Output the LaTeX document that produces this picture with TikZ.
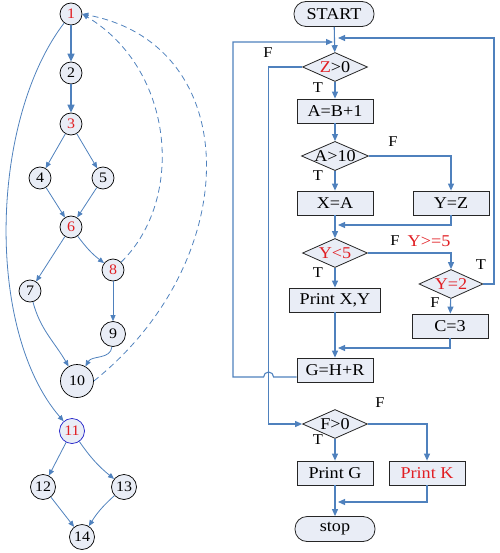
\documentclass[tikz,border=0pt]{standalone}
\usepackage{fontspec}
\setmainfont{Liberation Serif}[FakeStretch=1.1]
\usetikzlibrary{arrows.meta,shapes.geometric,calc}
\definecolor{lnblue}{RGB}{79,129,189}
\definecolor{nfill}{RGB}{233,237,246}
\definecolor{tred}{RGB}{225,30,35}
\definecolor{cblue}{RGB}{30,30,200}
\tikzset{
  vtx/.style={circle,draw=black,fill=nfill,inner sep=0pt,minimum size=22pt,line width=0.7pt,font=\fontsize{14.5}{16}\selectfont},
  rvtx/.style={vtx,text=tred},
  blk/.style={draw=black!85,fill=nfill,rectangle,minimum width=76pt,minimum height=24pt,inner sep=1pt,line width=0.8pt,font=\fontsize{16.5}{18}\selectfont},
  decblk/.style={blk,diamond,aspect=2.3,minimum width=65pt,minimum height=29pt,inner sep=0pt},
  termblk/.style={blk,minimum width=80pt,minimum height=25pt,rounded corners=12pt},
  arr/.style={-{Triangle[length=7pt,width=6pt]},lnblue,line width=1.1pt},
  garr/.style={-{Triangle[length=6pt,width=5pt]},lnblue,line width=0.8pt},
  thkarr/.style={-{Triangle[length=8pt,width=7pt]},lnblue,line width=1.6pt},
  dasharr/.style={garr,dash pattern=on 6pt off 4pt},
  lbl/.style={font=\fontsize{15}{17}\selectfont,inner sep=0pt}
}
\begin{document}
\begin{tikzpicture}[x=1pt,y=-1pt]
  \useasboundingbox (0,0) rectangle (499,553);
  % control flow graph
  \node[rvtx] (n1) at (71,14) {1};
  \node[vtx] (n2) at (71,73) {2};
  \node[rvtx] (n3) at (71,124) {3};
  \node[vtx] (n4) at (40,178) {4};
  \node[vtx] (n5) at (103,178) {5};
  \node[rvtx] (n6) at (71,227) {6};
  \node[vtx] (n7) at (30,291) {7};
  \node[rvtx] (n8) at (113,270) {8};
  \node[vtx,minimum size=25pt] (n9) at (113,334) {9};
  \node[vtx,minimum size=33pt] (n10) at (77,381) {10};
  \node[rvtx,draw=cblue,minimum size=25pt] (n11) at (72,431) {11};
  \node[vtx,minimum size=25pt] (n12) at (43,487) {12};
  \node[vtx,minimum size=25pt] (n13) at (124,487) {13};
  \node[vtx,minimum size=25pt] (n14) at (82,537) {14};

  \draw[thkarr] (n1)--(n2);
  \draw[thkarr] (n2)--(n3);
  \draw[garr] (n3)--(n4);
  \draw[garr] (n3)--(n5);
  \draw[garr] (n4)--(n6);
  \draw[garr] (n5)--(n6);
  \draw[garr] (n6)--(n7);
  \draw[garr] (n6) to[bend right=8] (n8);
  \draw[garr] (n8)--(n9);
  \draw[garr] (n7) to[out=-75,in=120] (n10);
  \draw[garr] (n9) to[out=-95,in=60] (n10);
  \draw[garr] (n1) .. controls (-10,120) and (-15,330) .. (n11);
  \draw[garr] (n11)--(n12);
  \draw[garr] (n11) to[bend right=8] (n13);
  \draw[garr] (n12)--(n14);
  \draw[garr] (n13) to[bend right=8] (n14);
  \draw[dasharr] (n8) .. controls (185,200) and (175,70) .. (n1.east);
  \draw[dasharr] (n10.east) .. controls (245,260) and (245,45) .. (n1.east);

  % flow chart
  \node[termblk] (start) at (334,14) {START};
  \node[decblk] (zgt) at (335,67) {\textcolor{tred}{Z}>0};
  \node[blk] (abb) at (335,111) {A=B+1};
  \node[decblk] (agt) at (335,156) {A>10};
  \node[blk] (xa) at (335,203) {X=A};
  \node[blk] (yz) at (451,203) {Y=Z};
  \node[decblk,text=tred] (ylt) at (335,253) {Y<5};
  \node[decblk,text=tred,minimum width=64pt] (y2) at (451,284) {Y=2};
  \node[blk,minimum width=91pt] (pxy) at (335,300) {Print X,Y};
  \node[blk] (c3) at (450,326) {C=3};
  \node[blk] (ghr) at (335,370) {G=H+R};
  \node[decblk] (fgt) at (335,424) {F>0};
  \node[blk] (pg) at (335,473) {Print G};
  \node[blk,text=tred] (pk) at (427,473) {Print K};
  \node[termblk] (stop) at (335,529) {stop};

  \coordinate (cornL) at (233,42);
  \coordinate (inL) at (333,42);
  \coordinate (cornR) at (494,38);
  \coordinate (inR) at (338,38);
  \coordinate (m1) at (338,225);
  \coordinate (m2) at (338,348);
  \coordinate (m3) at (338,502);

  \draw[arr] (start)--(zgt);
  \draw[arr] (zgt)--(abb);
  \draw[arr] (abb)--(agt);
  \draw[arr] (agt)--(xa);
  \draw[arr] (agt.east) -| (yz.north);
  \draw[arr] (yz.south) |- (m1);
  \draw[arr] (xa)--(ylt);
  \draw[arr] (ylt.east) -| (y2.north);
  \draw[arr] (ylt)--(pxy);
  \draw[arr] (y2)--(c3);
  \draw[arr] (pxy)--(ghr);
  \draw[arr] (c3.south) |- (m2);
  \draw[arr] (y2.east) -| (cornR) -- (inR);
  \draw[arr] ([yshift=-7pt]ghr.west) -- ++(-23,0) arc[start angle=0,end angle=-180,radius=5] -| (cornL) -- (inL);
  \draw[arr] (zgt.west) -- ++(-34,0) |- (fgt.west);
  \draw[arr] (fgt)--(pg);
  \draw[arr] (fgt.east) -| (pk.north);
  \draw[arr] (pk.south) |- (m3);
  \draw[arr] (pg)--(stop);

  \node[lbl] (lf1) at (268,53) {F};
  \node[lbl] (lt1) at (318,88) {T};
  \node[lbl] (lf2) at (393,142) {F};
  \node[lbl] (lt2) at (318,176) {T};
  \node[lbl] (lf3) at (395,241) {F};
  \node[lbl,text=tred,font=\fontsize{16.5}{18}\selectfont] (lye) at (429,241) {Y>=5};
  \node[lbl] (lt3) at (318,273) {T};
  \node[lbl] (lt4) at (481,265) {T};
  \node[lbl] (lf4) at (435,303) {F};
  \node[lbl] (lf5) at (380,403) {F};
  \node[lbl] (lt5) at (318,440) {T};
\end{tikzpicture}
\end{document}
